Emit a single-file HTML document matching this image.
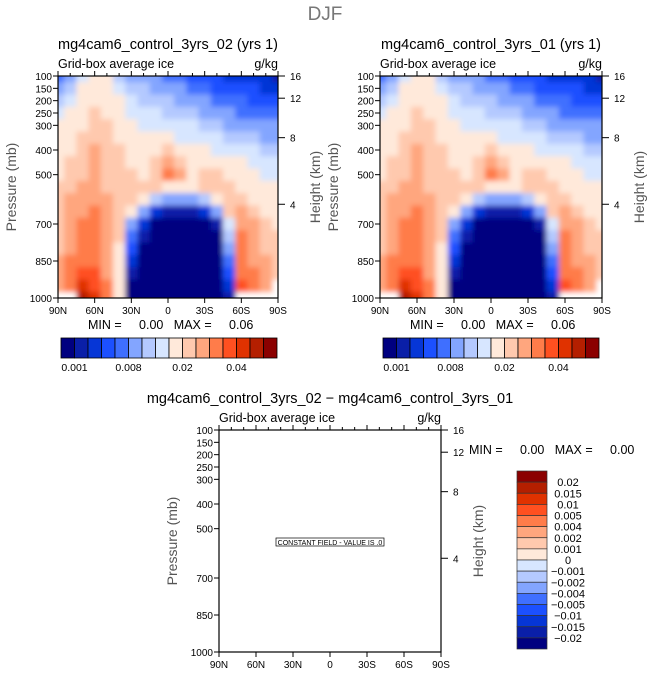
<!DOCTYPE html>
<html><head><meta charset="utf-8">
<style>
html,body{margin:0;padding:0;background:#fff;}
svg{display:block;font-family:"Liberation Sans","DejaVu Sans",sans-serif;}
.pre{white-space:pre;}
</style></head>
<body>
<svg id="root" width="649" height="676" viewBox="0 0 649 676" xmlns="http://www.w3.org/2000/svg">
<defs>
<filter id="smooth" x="0" y="0" width="1" height="1"><feGaussianBlur stdDeviation="2.6"/></filter>
<clipPath id="clipL"><rect x="58" y="76" width="220" height="222"/></clipPath>
<clipPath id="clipR"><rect x="380" y="76" width="222" height="222"/></clipPath>
</defs>
<text x="325" y="20" font-size="19" fill="#777" text-anchor="middle">DJF</text>
</svg>
<script>
// ---- data ----
const lats = ["90N","80N","70N","60N","50N","40N","30N","20N","10N","0","10S","20S","30S","40S","50S","60S","70S","80S","90S"];
const latTickLabels = ["90N","60N","30N","0","30S","60S","90S"];
const pressureLevels = [100,150,200,250,300,350,400,450,500,550,600,650,700,750,800,850,900,950,1000];
const pressureTicks = [100,150,200,250,300,400,500,700,850,1000];
const heightTicks = [16,12,8,4];
const heightTickPressure = [100,190,350,620];
const colorLevels = ["#000080","#0a1fa8","#0636d6","#1c50ff","#3f6fff","#83a5ff","#b4c9ff","#d7e6ff","#ffe9da","#ffc9ae","#ffa67e","#ff7c4a","#ff5020","#e03200","#b41f00","#8b0000"];
const topBarLabels = ["0.001","0.008","0.02","0.04"];
const topBarLabelIdx = [1,5,9,13];
const diffBarLabels = ["0.02","0.015","0.01","0.005","0.004","0.002","0.001","0","−0.001","−0.002","−0.004","−0.005","−0.01","−0.015","−0.02"];
// level index grid: rows = pressureLevels, cols = lats; -1 = below ground
const iceLevels = [
[4,5,7,8,8,6,5,5,5,4,4,3,3,3,2,2,2,2,1],
[5,6,8,8,8,7,6,6,5,5,5,4,4,3,3,3,3,2,2],
[6,7,8,8,8,8,7,6,6,6,5,5,5,4,4,4,3,3,3],
[7,8,8,9,8,8,7,7,7,6,6,6,5,5,5,4,4,4,4],
[8,8,8,9,9,8,8,7,7,7,7,7,6,6,5,5,5,5,5],
[8,8,9,9,9,8,8,8,8,8,7,7,7,7,6,6,6,5,5],
[8,8,9,10,9,9,8,8,8,9,8,8,8,7,7,7,7,6,6],
[8,9,9,10,9,9,8,8,9,10,9,8,8,8,8,8,7,7,7],
[8,9,9,10,9,9,9,8,9,11,10,8,9,9,8,8,8,7,7],
[9,9,10,10,9,9,9,9,9,8,8,8,9,9,9,8,8,8,8],
[9,10,10,10,10,9,9,8,6,5,5,5,6,8,9,9,8,8,8],
[9,10,10,11,10,9,8,5,2,1,1,1,2,5,9,10,9,8,8],
[9,10,11,11,10,9,5,2,0,0,0,0,0,1,7,10,10,9,8],
[9,10,11,11,10,9,4,1,0,0,0,0,0,0,6,11,10,9,9],
[9,10,11,11,10,8,3,0,0,0,0,0,0,0,5,11,10,9,9],
[10,11,11,11,10,8,2,0,0,0,0,0,0,0,4,11,10,10,9],
[10,11,12,12,10,8,1,0,0,0,0,0,0,0,3,11,11,10,9],
[10,11,13,12,11,8,0,0,0,0,0,0,0,0,2,12,11,10,-1],
[-1,-1,14,13,11,8,0,0,0,0,0,0,0,0,1,-1,-1,-1,-1]
];

const NS="http://www.w3.org/2000/svg";
const root=document.getElementById('root');
function mk(tag,attrs,parent,txt){const e=document.createElementNS(NS,tag);for(const k in attrs)e.setAttribute(k,attrs[k]);if(txt!==undefined)e.textContent=txt;(parent||root).appendChild(e);return e;}

function panel(x0,y0,w,h,opts){
  const xs=i=>x0+i*w/(lats.length-1);
  const xt=i=>x0+i*w/(latTickLabels.length-1);
  const yp=p=>y0+(p-100)/900*h;
  if(opts.fill){
    const g=mk('g',{'clip-path':`url(#${opts.clip})`});
    
    
    const inner=mk('g',{filter:'url(#smooth)'},g);
    mk('rect',{x:x0,y:y0,width:w,height:h,fill:'#fff'},inner);
    const cw=w/(lats.length-1), ch=h/(pressureLevels.length-1);
    iceLevels.forEach((row,r)=>row.forEach((v,c)=>{
      if(v<0)return;
      const cell=mk('rect',{x:xs(c)-cw/2,y:yp(pressureLevels[r])-ch/2,width:cw+0.6,height:ch+0.6,fill:colorLevels[v]},inner);
      
      
    }));
  }
  const box=mk('rect',{x:x0,y:y0,width:w,height:h,fill:'none',stroke:'#000','stroke-width':1.2});
  
  
  latTickLabels.forEach((l,i)=>{
    mk('line',{x1:xt(i),x2:xt(i),y1:y0+h,y2:y0+h+5,stroke:'#000'});
    mk('line',{x1:xt(i),x2:xt(i),y1:y0,y2:y0-5,stroke:'#000'});
    const t=mk('text',{x:xt(i),y:y0+h+16,'font-size':10,'text-anchor':'middle'},root,l);
    
    
  });
  for(let i=0;i<=18;i++){if(i%3)mk('line',{x1:xs(i),x2:xs(i),y1:y0,y2:y0-3,stroke:'#000'});}
  pressureTicks.forEach(p=>{
    mk('line',{x1:x0-5,x2:x0,y1:yp(p),y2:yp(p),stroke:'#000'});
    const t=mk('text',{x:x0-6,y:yp(p)+4,'font-size':10,'text-anchor':'end'},root,p);
    
    
  });
  heightTicks.forEach((hk,i)=>{
    const y=yp(heightTickPressure[i]);
    mk('line',{x1:x0+w,x2:x0+w+7,y1:y,y2:y,stroke:'#000'});
    const t=mk('text',{x:x0+w+12,y:y+4,'font-size':10},root,hk);
    
    
  });
  let t=mk('text',{x:x0-42,y:y0+h/2,'font-size':14,fill:'#555','text-anchor':'middle',transform:`rotate(-90 ${x0-42} ${y0+h/2})`},root,'Pressure (mb)');
  
  const hx=x0+w+42;
  t=mk('text',{x:hx,y:y0+h/2,'font-size':14,fill:'#555','text-anchor':'middle',transform:`rotate(-90 ${hx} ${y0+h/2})`},root,'Height (km)');
  
  t=mk('text',{x:x0,y:y0-8,'font-size':12.5},root,'Grid-box average ice');
  
  t=mk('text',{x:x0+w,y:y0-8,'font-size':12.5,'text-anchor':'end'},root,'g/kg');
  
  t=mk('text',{x:x0+w/2,y:y0-27,'font-size':14.5,'text-anchor':'middle'},root,opts.title);
  
}

function topColorbar(x0,y0){
  const bw=216/colorLevels.length;
  colorLevels.forEach((c,i)=>{
    const r=mk('rect',{x:x0+i*bw,y:y0,width:bw,height:20,fill:c,stroke:'#000','stroke-width':0.8});
    
    
  });
  topBarLabels.forEach((l,i)=>{
    const t=mk('text',{x:x0+topBarLabelIdx[i]*bw,y:y0+33,'font-size':10.5,'text-anchor':'middle'},root,l);
    
    
  });
}
function minmax(x,y,mn,mx){
  const t=mk('text',{x:x,y:y,'font-size':12.5,'class':'pre'},root,'MIN =     '+mn+'   MAX =     '+mx);
  
  
}

panel(58,76,220,222,{fill:true,clip:'clipL',prefix:'left',title:'mg4cam6_control_3yrs_02 (yrs 1)'});
topColorbar(61,338);
minmax(88,329,'0.00','0.06');
panel(380,76,222,222,{fill:true,clip:'clipR',prefix:'right',title:'mg4cam6_control_3yrs_01 (yrs 1)'});
topColorbar(383,338);
minmax(410,329,'0.00','0.06');

panel(219,430,222,222,{fill:false,prefix:'diff',title:'mg4cam6_control_3yrs_02 − mg4cam6_control_3yrs_01'});
const cf=mk('rect',{x:276,y:538,width:108,height:8,fill:'#fff',stroke:'#000','stroke-width':0.7});

let ct=mk('text',{x:330,y:545,'font-size':7,'text-anchor':'middle'},root,'CONSTANT FIELD - VALUE IS .0');

minmax(469,454,'0.00','0.00');
const dbh=178/colorLevels.length;
colorLevels.slice().reverse().forEach((c,i)=>{
  const r=mk('rect',{x:517,y:471+i*dbh,width:30,height:dbh,fill:c,stroke:'#333','stroke-width':0.7});
  
  
});
diffBarLabels.forEach((l,i)=>{
  const t=mk('text',{x:568,y:471+(i+1)*dbh+4,'font-size':11,'text-anchor':'middle'},root,l);
  
  
});
</script>
</body></html>
